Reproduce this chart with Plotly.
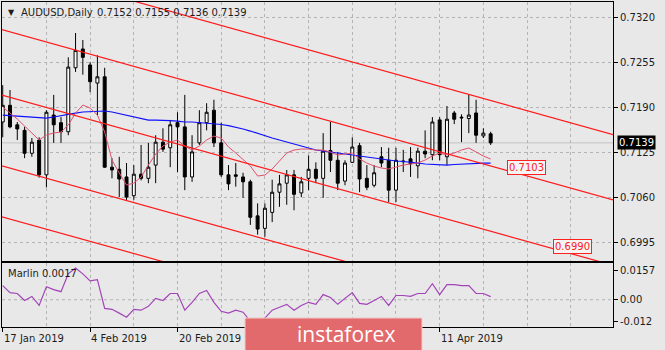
import plotly.graph_objects as go

# AUDUSD daily bars, 17 Jan 2019 - 22 Apr 2019 (index 0 = 17 Jan)
opens = [0.7169, 0.7193, 0.7165, 0.7157, 0.7124, 0.7143, 0.7093, 0.7179, 0.7168, 0.7155,
         0.7247, 0.7274, 0.7251, 0.7225, 0.7234, 0.7104, 0.7101, 0.7090, 0.7063, 0.7094,
         0.7088, 0.7107, 0.7140, 0.7132, 0.7168, 0.7162, 0.7090, 0.7139, 0.7168, 0.7186,
         0.7139, 0.7093, 0.7093, 0.7090, 0.7083, 0.7034, 0.7016, 0.7039, 0.7068, 0.7081,
         0.7093, 0.7067, 0.7088, 0.7101, 0.7088, 0.7128, 0.7114, 0.7084, 0.7111, 0.7135,
         0.7088, 0.7078, 0.7119, 0.7114, 0.7071, 0.7113, 0.7116, 0.7106, 0.7127, 0.7122,
         0.7172, 0.7119, 0.7182, 0.7176, 0.7174, 0.7182, 0.7149, 0.7152]
highs = [0.7222, 0.7215, 0.7169, 0.7162, 0.7146, 0.7147, 0.7186, 0.7208, 0.7176, 0.7262,
         0.7297, 0.7287, 0.7255, 0.7265, 0.7247, 0.7117, 0.7119, 0.7110, 0.7107, 0.7136,
         0.7139, 0.7150, 0.7160, 0.7172, 0.7183, 0.7208, 0.7150, 0.7186, 0.7196, 0.7201,
         0.7168, 0.7107, 0.7110, 0.7096, 0.7086, 0.7052, 0.7052, 0.7086, 0.7093, 0.7100,
         0.7100, 0.7090, 0.7121, 0.7111, 0.7153, 0.7169, 0.7126, 0.7114, 0.7147, 0.7139,
         0.7107, 0.7107, 0.7133, 0.7132, 0.7132, 0.7129, 0.7133, 0.7132, 0.7157, 0.7176,
         0.7176, 0.7192, 0.7185, 0.7180, 0.7208, 0.7201, 0.7160, 0.7155]
lows = [0.7147, 0.7160, 0.7143, 0.7117, 0.7119, 0.7089, 0.7075, 0.7139, 0.7139, 0.7150,
        0.7241, 0.7237, 0.7212, 0.7179, 0.7103, 0.7088, 0.7061, 0.7057, 0.7057, 0.7085,
        0.7081, 0.7081, 0.7126, 0.7104, 0.7097, 0.7071, 0.7083, 0.7136, 0.7157, 0.7133,
        0.7090, 0.7071, 0.7076, 0.7060, 0.7021, 0.7007, 0.7004, 0.7025, 0.7047, 0.7050,
        0.7042, 0.7061, 0.7071, 0.7081, 0.7060, 0.7097, 0.7071, 0.7078, 0.7110, 0.7068,
        0.7071, 0.7075, 0.7104, 0.7054, 0.7054, 0.7097, 0.7090, 0.7088, 0.7117, 0.7114,
        0.7114, 0.7107, 0.7166, 0.7140, 0.7153, 0.7139, 0.7146, 0.7136]
closes = [0.7193, 0.7162, 0.7159, 0.7124, 0.7140, 0.7093, 0.7183, 0.7165, 0.7155, 0.7248,
          0.7272, 0.7262, 0.7227, 0.7234, 0.7104, 0.7100, 0.7087, 0.7061, 0.7094, 0.7088,
          0.7104, 0.7140, 0.7130, 0.7165, 0.7162, 0.7090, 0.7126, 0.7168, 0.7183, 0.7139,
          0.7093, 0.7080, 0.7091, 0.7083, 0.7032, 0.7015, 0.7045, 0.7068, 0.7080, 0.7093,
          0.7065, 0.7083, 0.7101, 0.7088, 0.7127, 0.7114, 0.7081, 0.7110, 0.7133, 0.7087,
          0.7075, 0.7096, 0.7110, 0.7071, 0.7114, 0.7112, 0.7109, 0.7127, 0.7123, 0.7169,
          0.7122, 0.7173, 0.7173, 0.7175, 0.7179, 0.7150, 0.7153, 0.7139]

# slow moving average (blue)
ma_slow = [0.71790, 0.71783, 0.71776, 0.71769, 0.71762, 0.71754, 0.71747, 0.71762, 0.71783, 0.71805,
           0.71819, 0.71834, 0.71841, 0.71848, 0.71848, 0.71834, 0.71812, 0.71790, 0.71762, 0.71740,
           0.71718, 0.71718, 0.71718, 0.71711, 0.71704, 0.71690, 0.71690, 0.71683, 0.71675, 0.71668,
           0.71654, 0.71639, 0.71618, 0.71589, 0.71560, 0.71524, 0.71488, 0.71460, 0.71431, 0.71402,
           0.71373, 0.71345, 0.71316, 0.71287, 0.71273, 0.71258, 0.71244, 0.71229, 0.71215, 0.71201,
           0.71179, 0.71165, 0.71151, 0.71143, 0.71129, 0.71122, 0.71114, 0.71100, 0.71086, 0.71079,
           0.71071, 0.71071, 0.71079, 0.71086, 0.71086, 0.71093, 0.71100, 0.71100]
# fast moving average (pink)
ma_fast = [0.71905, 0.71819, 0.71733, 0.71632, 0.71532, 0.71431, 0.71503, 0.71532, 0.71546, 0.71647,
           0.71819, 0.71934, 0.71891, 0.71790, 0.71546, 0.71143, 0.70956, 0.70784, 0.70812, 0.70898,
           0.71071, 0.71229, 0.71345, 0.71402, 0.71431, 0.71345, 0.71287, 0.71345, 0.71431, 0.71488,
           0.71460, 0.71330, 0.71244, 0.71143, 0.71057, 0.70913, 0.70927, 0.71014, 0.71129, 0.71244,
           0.71287, 0.71301, 0.71301, 0.71287, 0.71287, 0.71258, 0.71215, 0.71229, 0.71244, 0.71158,
           0.71100, 0.71057, 0.71028, 0.71014, 0.71043, 0.71071, 0.71086, 0.71100, 0.71143, 0.71201,
           0.71244, 0.71215, 0.71244, 0.71287, 0.71316, 0.71258, 0.71201, 0.71158]
# Marlin oscillator
marlin = [0.0077, 0.0039, 0.0034, -0.0004, 0.0018, -0.0031, 0.0071, 0.0055, 0.0044, 0.0141,
          0.0173, 0.0141, 0.0103, 0.0109, -0.0047, -0.0052, -0.0073, -0.0095, -0.0052, -0.0057,
          -0.0036, 0.0007, -0.0004, 0.0034, 0.0034, -0.0057, -0.0014, 0.0034, 0.0050, -0.0014,
          -0.0063, -0.0073, -0.0057, -0.0068, -0.0116, -0.0132, -0.0100, -0.0057, -0.0041, -0.0025,
          -0.0057, -0.0031, -0.0014, -0.0025, 0.0028, 0.0012, -0.0025, 0.0007, 0.0039, -0.0020,
          -0.0025, -0.0004, 0.0018, -0.0031, 0.0023, 0.0023, 0.0018, 0.0034, 0.0034, 0.0087,
          0.0028, 0.0082, 0.0082, 0.0077, 0.0077, 0.0034, 0.0034, 0.0017]

# descending channel lines: anchor (bar, price), common slope per bar
channel_anchor_bars = [0, 68, 74.5, 0, 0]
channel_anchor_prices = [0.73954, 0.7103, 0.6990, 0.71057, 0.70324]
channel_slope = -0.0002918
labelled_levels = [(1, 69.3), (2, 75.5)]  # (line index, label start bar)

date_ticks = [0, 12, 24, 60]
date_labels = ["17 Jan 2019", "4 Feb 2019", "20 Feb 2019", "11 Apr 2019"]
price_ticks = [0.6995, 0.7060, 0.7125, 0.7190, 0.7255, 0.7320]
osc_ticks = [-0.012, 0.0, 0.0157]
osc_labels = ["-0.012", "0.00", "0.0157"]

BG = "#e8e8e8"
GRID = "#b4b4b4"
TXT = "#1c1c1c"
FONT = "DejaVu Sans"
W, H = 665, 350
L, R, T, B = 2, 52, 2, 23
PW, PH = W - L - R, H - T - B


def px(xp):
    return (xp - L) / PW


def py(yp):
    return (H - B - yp) / PH


bars = list(range(len(closes)))
x_range = [-0.1, 83.8]

fig = go.Figure()

fig.add_trace(go.Candlestick(
    x=bars, open=opens, high=highs, low=lows, close=closes,
    xaxis="x2", yaxis="y2",
    increasing=dict(line=dict(color="#000000", width=1), fillcolor="#ffffff"),
    decreasing=dict(line=dict(color="#000000", width=1), fillcolor="#000000"),
    whiskerwidth=0, showlegend=False, hoverinfo="skip"))

fig.add_trace(go.Scatter(x=bars, y=ma_slow, mode="lines", xaxis="x2", yaxis="y2",
                         line=dict(color="#1010ff", width=1.2), showlegend=False, hoverinfo="skip"))
fig.add_trace(go.Scatter(x=bars, y=ma_fast, mode="lines", xaxis="x2", yaxis="y2",
                         line=dict(color="#e2506c", width=1), showlegend=False, hoverinfo="skip"))

line_x = [-2, 90]
for ab, ap in zip(channel_anchor_bars, channel_anchor_prices):
    fig.add_trace(go.Scatter(
        x=line_x, y=[ap + channel_slope * (xx - ab) for xx in line_x],
        mode="lines", xaxis="x2", yaxis="y2",
        line=dict(color="#ff1a1a", width=1.2), showlegend=False, hoverinfo="skip"))

fig.add_trace(go.Scatter(x=bars, y=marlin, mode="lines", xaxis="x", yaxis="y",
                         line=dict(color="#a244b8", width=1.2), showlegend=False, hoverinfo="skip"))

frame = dict(showline=True, linecolor="#000000", linewidth=1, mirror=True)
xgrid = dict(showgrid=True, gridcolor=GRID, griddash="3px,3px", gridwidth=1,
             minor=dict(dtick=6, tick0=0, showgrid=True, gridcolor=GRID,
                        griddash="3px,3px", gridwidth=1, ticks=""))

fig.update_layout(
    width=W, height=H,
    margin=dict(l=L, r=R, t=T, b=B, pad=0),
    paper_bgcolor=BG, plot_bgcolor=BG,
    boxgap=0.42,
    showlegend=False,
    font=dict(family=FONT, size=10, color=TXT),
    xaxis=dict(domain=[0, 1], anchor="y", range=x_range, tickmode="array",
               tickvals=[0, 12, 24, 36, 48, 60], ticks="outside", ticklen=4,
               tickcolor="#000000", showticklabels=False, zeroline=False,
               rangeslider=dict(visible=False), **frame, **xgrid),
    xaxis2=dict(domain=[0, 1], anchor="y2", range=x_range, tickmode="array",
                tickvals=[0, 12, 24, 36, 48, 60], ticks="", showticklabels=False,
                zeroline=False, rangeslider=dict(visible=False), **frame, **xgrid),
    yaxis=dict(domain=[0, py(263)], anchor="x", range=[-0.01484, 0.0200], side="right",
               tickmode="array", tickvals=osc_ticks, ticktext=osc_labels,
               ticks="outside", ticklen=4, tickcolor="#000000", showgrid=False,
               zeroline=False, tickfont=dict(family=FONT, size=10, color=TXT), **frame),
    yaxis2=dict(domain=[py(261), 1], anchor="x2", range=[0.69691, 0.73416], side="right",
                tickmode="array", tickvals=price_ticks,
                ticktext=[f"{v:.4f}" for v in price_ticks],
                ticks="outside", ticklen=4, tickcolor="#000000",
                showgrid=True, gridcolor=GRID, griddash="3px,3px", gridwidth=1,
                zeroline=False, tickfont=dict(family=FONT, size=10, color=TXT), **frame),
)

shapes = [
    # bid line
    dict(type="line", xref="x2 domain", yref="y2", x0=0, x1=1, y0=closes[-1], y1=closes[-1],
         line=dict(color="#c2c2c2", width=1), layer="below"),
    # oscillator zero level
    dict(type="line", xref="x domain", yref="y", x0=0, x1=1, y0=0, y1=0,
         line=dict(color=GRID, width=1, dash="3px,3px"), layer="below"),
    # watermark plate
    dict(type="rect", xref="paper", yref="paper", x0=px(245), x1=px(422), y0=py(352), y1=py(318),
         fillcolor="#e36a6c", line=dict(color="#f3c9c9", width=1), layer="above"),
]

annotations = [
    dict(xref="paper", yref="paper", x=px(6), y=py(12), text="▼", showarrow=False,
         xanchor="left", yanchor="middle", font=dict(size=8, color=TXT)),
    dict(xref="paper", yref="paper", x=px(19), y=py(12), text="AUDUSD,Daily", showarrow=False,
         xanchor="left", yanchor="middle", font=dict(size=10, color=TXT)),
    dict(xref="paper", yref="paper", x=px(95), y=py(12),
         text=f"{opens[-1]:.4f} {highs[-1]:.4f} {lows[-1]:.4f} {closes[-1]:.4f}",
         showarrow=False, xanchor="left", yanchor="middle", font=dict(size=10, color=TXT)),
    dict(xref="paper", yref="paper", x=px(6), y=py(273), text=f"Marlin {marlin[-1]:.4f}",
         showarrow=False, xanchor="left", yanchor="middle", font=dict(size=10, color=TXT)),
    # current price tag
    dict(xref="paper", yref="y2", x=1, xshift=4, y=closes[-1], text=f"{closes[-1]:.4f}",
         showarrow=False, xanchor="left", yanchor="middle", bgcolor="#000000",
         borderpad=1, font=dict(size=10, color="#ffffff")),
    # watermark text
    dict(xref="paper", yref="paper", x=px(346), y=py(334), text="instaforex", showarrow=False,
         xanchor="center", yanchor="middle", font=dict(family="Open Sans", size=21, color="#ffffff")),
]

for i, lbl_bar in labelled_levels:
    annotations.append(dict(
        xref="x2", yref="y2", x=lbl_bar, y=channel_anchor_prices[i],
        text=f"{channel_anchor_prices[i]:.4f}", showarrow=False, xanchor="left", yanchor="middle",
        bgcolor="#f4f4f4", bordercolor="#ff2020", borderwidth=1, borderpad=1,
        font=dict(size=10, color="#ff2020")))

for b, lbl in zip(date_ticks, date_labels):
    annotations.append(dict(xref="x", yref="paper", x=b, y=py(338), text=lbl, showarrow=False,
                            xanchor="left", yanchor="middle", xshift=-1,
                            font=dict(size=10, color=TXT)))

fig.update_layout(shapes=shapes, annotations=annotations)

fig.write_html("out.html")
